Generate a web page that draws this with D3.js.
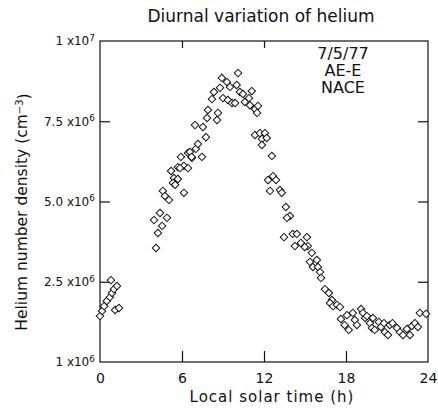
<!DOCTYPE html>
<html>
<head>
<meta charset="utf-8">
<script src="https://cdn.jsdelivr.net/npm/d3@7"></script>
<style>
  body { margin: 0; background: #fff; }
  text { font-family: "DejaVu Sans", "Liberation Sans", sans-serif; fill: #111; }
</style>
</head>
<body>
<div id="chart"></div>
<script>
// data: local solar time (h), helium density (cm^-3)
const hours = [
  0.0, 0.15, 0.3, 0.5, 0.73, 0.88, 1.02, 1.24, 0.8, 1.1, 1.39,
  4.1, 4.24, 4.54, 3.95, 4.39, 4.9, 4.6, 4.75, 5.05, 6.14, 5.41, 5.34, 5.5, 5.7, 5.2, 5.7, 6.14, 5.92, 6.44, 6.73,
  5.85, 6.44, 6.58, 7.02, 7.17, 7.46, 6.7, 7.75, 6.95, 7.53, 7.83, 7.9, 8.56, 8.63, 8.19, 8.34, 8.78, 8.92, 9.29,
  9.0, 9.36, 9.66, 9.88, 9.51, 10.0, 10.1, 10.24, 10.46, 10.6, 11.1, 10.9, 10.97, 11.34, 11.56, 11.49,
  11.34, 11.7, 12.07, 11.85, 12.2, 11.85, 12.58, 12.3, 12.66, 12.44, 12.88, 13.17, 13.3, 13.6, 13.9, 13.68,
  13.46, 14.1, 14.4, 14.26, 14.7, 15.14, 15.2, 14.98, 15.5, 15.36, 15.87, 15.58, 15.95, 16.1, 16.17, 16.46,
  16.75, 16.97, 16.83, 17.05, 17.34, 17.56, 17.63, 17.9, 18.2, 18.07, 18.5, 18.65, 18.8, 19.1, 19.24, 19.4,
  19.53, 19.75, 19.9, 20.1, 19.97, 20.4, 20.56, 20.85, 21.07, 20.78, 21.2, 21.4, 21.73, 21.95, 22.17, 22.46,
  22.68, 22.82, 23.04, 23.26, 23.4, 23.85
];
const density = [
  1.43e6, 1.59e6, 1.74e6, 1.90e6, 2.02e6, 2.15e6, 2.27e6, 2.37e6, 2.55e6, 1.62e6, 1.68e6,
  3.55e6, 4.02e6, 4.24e6, 4.42e6, 4.64e6, 4.49e6, 5.33e6, 5.17e6, 5.05e6, 5.27e6, 5.73e6, 5.58e6, 5.52e6, 5.70e6, 5.95e6, 6.07e6, 6.11e6, 6.39e6, 6.51e6, 6.36e6,
  6.04e6, 6.04e6, 6.54e6, 6.64e6, 6.79e6, 6.39e6, 6.39e6, 7.0e6, 7.38e6, 7.32e6, 7.60e6, 7.85e6, 7.54e6, 7.76e6, 8.19e6, 8.41e6, 8.54e6, 8.85e6, 8.72e6,
  8.22e6, 8.16e6, 8.07e6, 8.07e6, 8.57e6, 8.63e6, 9.0e6, 8.41e6, 8.35e6, 8.1e6, 8.44e6, 8.22e6, 8.0e6, 7.88e6, 7.98e6, 7.76e6,
  7.07e6, 7.13e6, 7.13e6, 6.95e6, 6.98e6, 6.76e6, 6.42e6, 5.67e6, 5.79e6, 5.33e6, 5.67e6, 5.36e6, 5.27e6, 4.83e6, 4.55e6, 4.49e6,
  3.89e6, 3.99e6, 3.99e6, 3.61e6, 3.71e6, 3.89e6, 3.61e6, 3.58e6, 3.40e6, 3.12e6, 3.18e6, 2.96e6, 2.96e6, 2.80e6, 2.62e6, 2.27e6,
  2.15e6, 1.93e6, 1.84e6, 1.74e6, 1.78e6, 1.71e6, 1.34e6, 1.15e6, 1.0e6, 1.46e6, 1.53e6, 1.31e6, 1.15e6, 1.65e6, 1.53e6, 1.37e6,
  1.43e6, 1.21e6, 1.06e6, 1.0e6, 1.37e6, 1.25e6, 1.09e6, 0.93e6, 0.84e6, 1.21e6, 1.15e6, 1.21e6, 1.06e6, 0.93e6, 0.84e6, 1.03e6,
  0.84e6, 1.12e6, 1.21e6, 1.09e6, 1.53e6, 1.50e6
];
const xTicks = [0, 6, 12, 18, 24];
const yTicks = [0, 2.5e6, 5e6, 7.5e6, 1e7];
const yTickMant = ["1", "2.5", "5.0", "7.5", "1"];
const yTickExp = ["6", "6", "6", "6", "7"];
const notes = ["7/5/77", "AE-E", "NACE"];

const width = 438, height = 408;
const margin = {top: 41, right: 10, bottom: 46, left: 100};
const innerWidth = width - margin.left - margin.right;
const innerHeight = height - margin.top - margin.bottom;

const svg = d3.select('#chart').append('svg')
    .attr('width', width)
    .attr('height', height);

const g = svg.append('g')
    .attr('transform', `translate(${margin.left}, ${margin.top})`);

const x = d3.scaleLinear().domain([0, 24]).range([0, innerWidth]);
const y = d3.scaleLinear().domain([0, 1e7]).range([innerHeight, 0]);

// frame
g.append('rect')
    .attr('width', innerWidth).attr('height', innerHeight)
    .attr('fill', 'none').attr('stroke', '#111').attr('stroke-width', 1.2);

// bottom axis, ticks pointing inward
const xAxis = g.append('g')
    .attr('transform', `translate(0, ${innerHeight})`)
    .call(d3.axisBottom(x).tickValues(xTicks).tickSize(-11).tickPadding(21).tickFormat(d3.format('d')));
xAxis.select('.domain').remove();
xAxis.selectAll('.tick line').filter(d => d === 0 || d === 24).remove();
xAxis.selectAll('text').attr('font-size', 14).attr('dy', '0');

// top axis ticks
const xTop = g.append('g')
    .call(d3.axisTop(x).tickValues([6, 12]).tickSize(-7).tickFormat(''));
xTop.select('.domain').remove();

// left axis
const yAxis = g.append('g')
    .call(d3.axisLeft(y).tickValues(yTicks).tickSize(-10).tickPadding(16).tickFormat((d, i) => yTickMant[i] + ' x10'));
yAxis.select('.domain').remove();
yAxis.selectAll('.tick line').filter(d => d === 0 || d === 1e7).remove();
yAxis.selectAll('.tick text')
    .attr('font-size', 12)
    .attr('x', -5)
    .each(function(d, i) {
      d3.select(this).append('tspan')
          .attr('dy', '-0.5em')
          .attr('font-size', 9)
          .text(yTickExp[i]);
    });

// right axis ticks
const yRight = g.append('g')
    .attr('transform', `translate(${innerWidth}, 0)`)
    .call(d3.axisRight(y).tickValues([2.5e6, 5e6, 7.5e6]).tickSize(-10).tickFormat(''));
yRight.select('.domain').remove();

g.selectAll('.tick line').attr('stroke', '#111').attr('stroke-width', 1.2);

// points
const diamond = d3.symbol().type(d3.symbolSquare).size(28);
g.selectAll('.pt')
    .data(hours.map((h, i) => [h, density[i]]))
    .enter()
    .append('path')
        .attr('class', 'pt')
        .attr('d', diamond)
        .attr('transform', d => `translate(${x(d[0])}, ${y(d[1])}) rotate(45)`)
        .attr('fill', '#fff')
        .attr('stroke', '#111')
        .attr('stroke-width', 1);

// annotation
g.selectAll('.note')
    .data(notes)
    .enter()
    .append('text')
        .attr('class', 'note')
        .attr('x', 243)
        .attr('y', (d, i) => 18 + i * 17)
        .attr('text-anchor', 'middle')
        .attr('font-size', 16)
        .text(d => d);

// titles
svg.append('text')
    .attr('x', 261).attr('y', 22)
    .attr('text-anchor', 'middle')
    .attr('font-size', 17)
    .text('Diurnal variation of helium');

svg.append('text')
    .attr('x', 272).attr('y', 402)
    .attr('text-anchor', 'middle')
    .attr('font-size', 15)
    .attr('letter-spacing', 1)
    .text('Local solar time (h)');

const yl = svg.append('text')
    .attr('transform', 'translate(27, 212) rotate(-90)')
    .attr('text-anchor', 'middle')
    .attr('font-size', 15.5);
yl.append('tspan').text('Helium number density (cm');
yl.append('tspan').attr('dy', '-0.45em').attr('font-size', 10).text('\u22123');
yl.append('tspan').attr('dy', '0.45em').text(')');
</script>
</body>
</html>
